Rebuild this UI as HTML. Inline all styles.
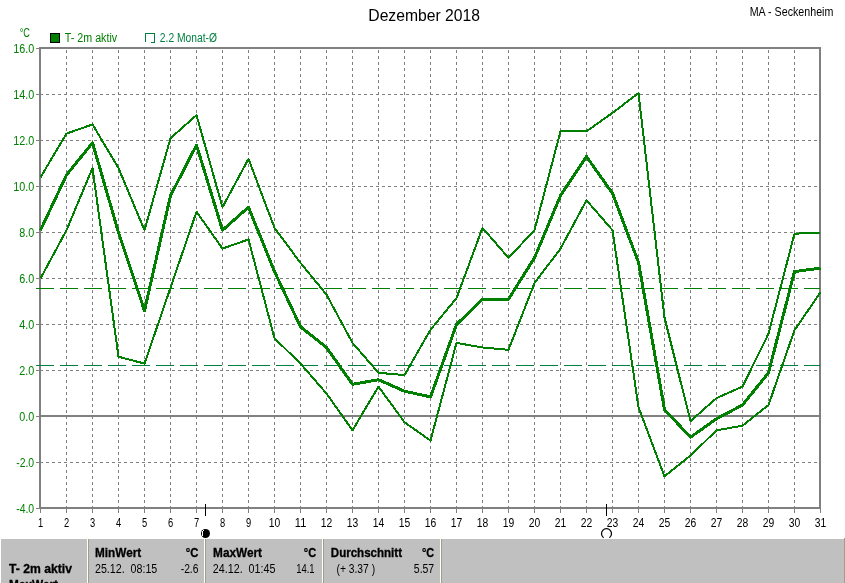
<!DOCTYPE html>
<html><head><meta charset="utf-8"><title>Dezember 2018</title>
<style>
html,body{margin:0;padding:0;background:#fff;overflow:hidden}
svg{display:block}
text{font-family:"Liberation Sans",Arial,sans-serif;font-size:12px}
.g{fill:#008000}
.b{font-weight:bold;stroke:#000;stroke-width:.3px}
</style></head><body>
<svg width="845" height="583" viewBox="0 0 845 583">
<rect width="845" height="583" fill="#fff"/>

<g stroke="#808080" stroke-width="1" stroke-dasharray="3 3" shape-rendering="crispEdges" fill="none">
<line x1="66.5" y1="50" x2="66.5" y2="508"/>
<line x1="92.5" y1="50" x2="92.5" y2="508"/>
<line x1="118.5" y1="50" x2="118.5" y2="508"/>
<line x1="144.5" y1="50" x2="144.5" y2="508"/>
<line x1="170.5" y1="50" x2="170.5" y2="508"/>
<line x1="196.5" y1="50" x2="196.5" y2="508"/>
<line x1="222.5" y1="50" x2="222.5" y2="508"/>
<line x1="248.5" y1="50" x2="248.5" y2="508"/>
<line x1="274.5" y1="50" x2="274.5" y2="508"/>
<line x1="300.5" y1="50" x2="300.5" y2="508"/>
<line x1="326.5" y1="50" x2="326.5" y2="508"/>
<line x1="352.5" y1="50" x2="352.5" y2="508"/>
<line x1="378.5" y1="50" x2="378.5" y2="508"/>
<line x1="404.5" y1="50" x2="404.5" y2="508"/>
<line x1="430.5" y1="50" x2="430.5" y2="508"/>
<line x1="456.5" y1="50" x2="456.5" y2="508"/>
<line x1="482.5" y1="50" x2="482.5" y2="508"/>
<line x1="508.5" y1="50" x2="508.5" y2="508"/>
<line x1="534.5" y1="50" x2="534.5" y2="508"/>
<line x1="560.5" y1="50" x2="560.5" y2="508"/>
<line x1="586.5" y1="50" x2="586.5" y2="508"/>
<line x1="612.5" y1="50" x2="612.5" y2="508"/>
<line x1="638.5" y1="50" x2="638.5" y2="508"/>
<line x1="664.5" y1="50" x2="664.5" y2="508"/>
<line x1="690.5" y1="50" x2="690.5" y2="508"/>
<line x1="716.5" y1="50" x2="716.5" y2="508"/>
<line x1="742.5" y1="50" x2="742.5" y2="508"/>
<line x1="768.5" y1="50" x2="768.5" y2="508"/>
<line x1="794.5" y1="50" x2="794.5" y2="508"/>
<line x1="40" y1="462.5" x2="820" y2="462.5"/>
<line x1="40" y1="370.5" x2="820" y2="370.5"/>
<line x1="40" y1="324.5" x2="820" y2="324.5"/>
<line x1="40" y1="278.5" x2="820" y2="278.5"/>
<line x1="40" y1="232.5" x2="820" y2="232.5"/>
<line x1="40" y1="186.5" x2="820" y2="186.5"/>
<line x1="40" y1="140.5" x2="820" y2="140.5"/>
<line x1="40" y1="94.5" x2="820" y2="94.5"/>
</g>
<g stroke="#808080" shape-rendering="crispEdges" fill="none">
<line x1="40" y1="416" x2="820" y2="416" stroke-width="2"/>
<rect x="40" y="48" width="780" height="460" stroke-width="2"/>
<line x1="40.5" y1="508" x2="40.5" y2="513"/>
<line x1="66.5" y1="508" x2="66.5" y2="513"/>
<line x1="92.5" y1="508" x2="92.5" y2="513"/>
<line x1="118.5" y1="508" x2="118.5" y2="513"/>
<line x1="144.5" y1="508" x2="144.5" y2="513"/>
<line x1="170.5" y1="508" x2="170.5" y2="513"/>
<line x1="196.5" y1="508" x2="196.5" y2="513"/>
<line x1="222.5" y1="508" x2="222.5" y2="513"/>
<line x1="248.5" y1="508" x2="248.5" y2="513"/>
<line x1="274.5" y1="508" x2="274.5" y2="513"/>
<line x1="300.5" y1="508" x2="300.5" y2="513"/>
<line x1="326.5" y1="508" x2="326.5" y2="513"/>
<line x1="352.5" y1="508" x2="352.5" y2="513"/>
<line x1="378.5" y1="508" x2="378.5" y2="513"/>
<line x1="404.5" y1="508" x2="404.5" y2="513"/>
<line x1="430.5" y1="508" x2="430.5" y2="513"/>
<line x1="456.5" y1="508" x2="456.5" y2="513"/>
<line x1="482.5" y1="508" x2="482.5" y2="513"/>
<line x1="508.5" y1="508" x2="508.5" y2="513"/>
<line x1="534.5" y1="508" x2="534.5" y2="513"/>
<line x1="560.5" y1="508" x2="560.5" y2="513"/>
<line x1="586.5" y1="508" x2="586.5" y2="513"/>
<line x1="612.5" y1="508" x2="612.5" y2="513"/>
<line x1="638.5" y1="508" x2="638.5" y2="513"/>
<line x1="664.5" y1="508" x2="664.5" y2="513"/>
<line x1="690.5" y1="508" x2="690.5" y2="513"/>
<line x1="716.5" y1="508" x2="716.5" y2="513"/>
<line x1="742.5" y1="508" x2="742.5" y2="513"/>
<line x1="768.5" y1="508" x2="768.5" y2="513"/>
<line x1="794.5" y1="508" x2="794.5" y2="513"/>
<line x1="820.5" y1="508" x2="820.5" y2="513"/>
<line x1="36" y1="508.5" x2="40" y2="508.5"/>
<line x1="36" y1="462.5" x2="40" y2="462.5"/>
<line x1="36" y1="416.5" x2="40" y2="416.5"/>
<line x1="36" y1="370.5" x2="40" y2="370.5"/>
<line x1="36" y1="324.5" x2="40" y2="324.5"/>
<line x1="36" y1="278.5" x2="40" y2="278.5"/>
<line x1="36" y1="232.5" x2="40" y2="232.5"/>
<line x1="36" y1="186.5" x2="40" y2="186.5"/>
<line x1="36" y1="140.5" x2="40" y2="140.5"/>
<line x1="36" y1="94.5" x2="40" y2="94.5"/>
<line x1="36" y1="48.5" x2="40" y2="48.5"/>
</g>
<g shape-rendering="crispEdges" fill="none" stroke-width="1">
<line x1="36" y1="288.5" x2="820" y2="288.5" stroke="#008000" stroke-dasharray="18 6"/>
<line x1="36" y1="365.5" x2="820" y2="365.5" stroke="#008040" stroke-dasharray="18 6"/>
</g>
<g fill="none" stroke="#008000" stroke-linejoin="round" stroke-linecap="butt" shape-rendering="crispEdges">
<polyline points="40.5,177.3 66.5,133.6 92.5,124.4 118.5,168.1 144.5,230.2 170.5,138.2 196.5,115.2 222.5,207.2 248.5,158.9 274.5,227.9 300.5,262.9 326.5,294.6 352.5,342.9 378.5,372.8 404.5,375.1 430.5,329.8 456.5,298.1 482.5,227.9 508.5,257.8 534.5,230.2 560.5,131.3 586.5,131.3 612.5,112.9 638.5,93.1 664.5,317.6 690.5,421.1 716.5,398.1 742.5,386.6 768.5,333.7 794.5,233.7 820.5,232.5" stroke-width="2"/>
<polyline points="40.5,278.5 66.5,230.2 92.5,168.1 118.5,356.7 144.5,363.6 170.5,287.7 196.5,211.8 222.5,248.6 248.5,239.4 274.5,338.3 300.5,363.6 326.5,393.5 352.5,430.3 378.5,386.6 404.5,422.2 430.5,440.6 456.5,342.9 482.5,347.5 508.5,349.8 534.5,283.1 560.5,248.6 586.5,200.3 612.5,230.2 638.5,407.3 664.5,476.3 690.5,455.6 716.5,430.3 742.5,425.7 768.5,405.0 794.5,330.2 820.5,292.3" stroke-width="2"/>
<polyline points="40.5,230.2 66.5,175.0 92.5,142.8 118.5,232.5 144.5,310.7 170.5,195.7 196.5,145.1 222.5,230.2 248.5,207.2 274.5,271.6 300.5,326.8 326.5,347.5 352.5,384.3 378.5,379.7 404.5,391.2 430.5,396.9 456.5,324.5 482.5,299.2 508.5,299.2 534.5,257.8 560.5,195.7 586.5,156.6 612.5,193.4 638.5,262.4 664.5,409.6 690.5,437.2 716.5,418.8 742.5,405.0 768.5,372.8 794.5,271.6 820.5,268.1" stroke-width="3"/>
</g>
<text x="368.3" y="21" textLength="111.7" lengthAdjust="spacingAndGlyphs" style="font-size:17px">Dezember 2018</text>
<text x="749.7" y="16" textLength="83.7" lengthAdjust="spacingAndGlyphs">MA - Seckenheim</text>
<text class="g" x="19.7" y="37" textLength="10.3" lengthAdjust="spacingAndGlyphs">°C</text>
<rect x="50.5" y="33.5" width="9" height="9" fill="#008000" stroke="#000" shape-rendering="crispEdges"/>
<text class="g" x="64.8" y="42" textLength="52.4" lengthAdjust="spacingAndGlyphs">T- 2m aktiv</text>
<path d="M145.5 42V33.5H154.5V42M151 42.5H155" fill="none" stroke="#008040" shape-rendering="crispEdges"/>
<text x="159.8" y="42" textLength="57.2" lengthAdjust="spacingAndGlyphs" fill="#008040">2.2 Monat-Ø</text>
<text class="g" x="16.2" y="513" textLength="18.0" lengthAdjust="spacingAndGlyphs">-4.0</text>
<text class="g" x="16.2" y="467" textLength="18.0" lengthAdjust="spacingAndGlyphs">-2.0</text>
<text class="g" x="19.2" y="421" textLength="15.0" lengthAdjust="spacingAndGlyphs">0.0</text>
<text class="g" x="19.2" y="375" textLength="15.0" lengthAdjust="spacingAndGlyphs">2.0</text>
<text class="g" x="19.2" y="329" textLength="15.0" lengthAdjust="spacingAndGlyphs">4.0</text>
<text class="g" x="19.2" y="283" textLength="15.0" lengthAdjust="spacingAndGlyphs">6.0</text>
<text class="g" x="19.2" y="237" textLength="15.0" lengthAdjust="spacingAndGlyphs">8.0</text>
<text class="g" x="13.2" y="191" textLength="21.0" lengthAdjust="spacingAndGlyphs">10.0</text>
<text class="g" x="13.2" y="145" textLength="21.0" lengthAdjust="spacingAndGlyphs">12.0</text>
<text class="g" x="13.2" y="99" textLength="21.0" lengthAdjust="spacingAndGlyphs">14.0</text>
<text class="g" x="13.2" y="53" textLength="21.0" lengthAdjust="spacingAndGlyphs">16.0</text>
<text x="37.9" y="527" textLength="5.2" lengthAdjust="spacingAndGlyphs">1</text>
<text x="63.9" y="527" textLength="5.2" lengthAdjust="spacingAndGlyphs">2</text>
<text x="89.9" y="527" textLength="5.2" lengthAdjust="spacingAndGlyphs">3</text>
<text x="115.9" y="527" textLength="5.2" lengthAdjust="spacingAndGlyphs">4</text>
<text x="141.9" y="527" textLength="5.2" lengthAdjust="spacingAndGlyphs">5</text>
<text x="167.9" y="527" textLength="5.2" lengthAdjust="spacingAndGlyphs">6</text>
<text x="193.9" y="527" textLength="5.2" lengthAdjust="spacingAndGlyphs">7</text>
<text x="219.9" y="527" textLength="5.2" lengthAdjust="spacingAndGlyphs">8</text>
<text x="245.9" y="527" textLength="5.2" lengthAdjust="spacingAndGlyphs">9</text>
<text x="268.8" y="527" textLength="11.5" lengthAdjust="spacingAndGlyphs">10</text>
<text x="294.8" y="527" textLength="11.5" lengthAdjust="spacingAndGlyphs">11</text>
<text x="320.8" y="527" textLength="11.5" lengthAdjust="spacingAndGlyphs">12</text>
<text x="346.8" y="527" textLength="11.5" lengthAdjust="spacingAndGlyphs">13</text>
<text x="372.8" y="527" textLength="11.5" lengthAdjust="spacingAndGlyphs">14</text>
<text x="398.8" y="527" textLength="11.5" lengthAdjust="spacingAndGlyphs">15</text>
<text x="424.8" y="527" textLength="11.5" lengthAdjust="spacingAndGlyphs">16</text>
<text x="450.8" y="527" textLength="11.5" lengthAdjust="spacingAndGlyphs">17</text>
<text x="476.8" y="527" textLength="11.5" lengthAdjust="spacingAndGlyphs">18</text>
<text x="502.8" y="527" textLength="11.5" lengthAdjust="spacingAndGlyphs">19</text>
<text x="528.8" y="527" textLength="11.5" lengthAdjust="spacingAndGlyphs">20</text>
<text x="554.8" y="527" textLength="11.5" lengthAdjust="spacingAndGlyphs">21</text>
<text x="580.8" y="527" textLength="11.5" lengthAdjust="spacingAndGlyphs">22</text>
<text x="606.8" y="527" textLength="11.5" lengthAdjust="spacingAndGlyphs">23</text>
<text x="632.8" y="527" textLength="11.5" lengthAdjust="spacingAndGlyphs">24</text>
<text x="658.8" y="527" textLength="11.5" lengthAdjust="spacingAndGlyphs">25</text>
<text x="684.8" y="527" textLength="11.5" lengthAdjust="spacingAndGlyphs">26</text>
<text x="710.8" y="527" textLength="11.5" lengthAdjust="spacingAndGlyphs">27</text>
<text x="736.8" y="527" textLength="11.5" lengthAdjust="spacingAndGlyphs">28</text>
<text x="762.8" y="527" textLength="11.5" lengthAdjust="spacingAndGlyphs">29</text>
<text x="788.8" y="527" textLength="11.5" lengthAdjust="spacingAndGlyphs">30</text>
<text x="814.8" y="527" textLength="11.5" lengthAdjust="spacingAndGlyphs">31</text>
<g shape-rendering="crispEdges" stroke="#000"><line x1="205.5" y1="504" x2="205.5" y2="516"/><line x1="606.5" y1="504" x2="606.5" y2="516"/></g>
<circle cx="205.5" cy="533.5" r="4.5" fill="#000"/>
<path d="M202 531h1v5h-1zM203 530h1v1h-1z" fill="#fff" shape-rendering="crispEdges"/>
<path d="M603.6 537.8 A5 5 0 1 1 609.4 537.8" fill="none" stroke="#000" stroke-width="1.25"/>
<g shape-rendering="crispEdges">
<rect x="0" y="539" width="845" height="44" fill="#c0c0c0"/>
<rect x="0" y="539" width="1" height="44" fill="#fff"/>
<rect x="87" y="539" width="1" height="44" fill="#fff"/><rect x="88" y="539" width="1" height="44" fill="#a09d8a"/>
<rect x="204" y="539" width="1" height="44" fill="#fff"/><rect x="205" y="539" width="1" height="44" fill="#a09d8a"/>
<rect x="322" y="539" width="1" height="44" fill="#fff"/><rect x="323" y="539" width="1" height="44" fill="#a09d8a"/>
<rect x="440" y="539" width="1" height="44" fill="#fff"/><rect x="441" y="539" width="1" height="44" fill="#a09d8a"/>
<rect x="844" y="538" width="1" height="45" fill="#a09d8a"/>
</g>
<text class="b" x="9.1" y="573" textLength="62.9" lengthAdjust="spacingAndGlyphs">T- 2m aktiv</text>
<text class="b" x="9.1" y="589" textLength="48.9" lengthAdjust="spacingAndGlyphs">MaxWert</text>
<text class="b" x="95.0" y="557" textLength="46.2" lengthAdjust="spacingAndGlyphs">MinWert</text>
<text class="b" x="185.8" y="557" textLength="12.7" lengthAdjust="spacingAndGlyphs">°C</text>
<text class="b" x="213.1" y="557" textLength="48.9" lengthAdjust="spacingAndGlyphs">MaxWert</text>
<text class="b" x="303.8" y="557" textLength="12.4" lengthAdjust="spacingAndGlyphs">°C</text>
<text class="b" x="330.8" y="557" textLength="71.2" lengthAdjust="spacingAndGlyphs">Durchschnitt</text>
<text class="b" x="422.0" y="557" textLength="12.2" lengthAdjust="spacingAndGlyphs">°C</text>
<text x="95.0" y="573" textLength="62.3" lengthAdjust="spacingAndGlyphs" xml:space="preserve" style="white-space:pre">25.12.  08:15</text>
<text x="180.7" y="573" textLength="17.8" lengthAdjust="spacingAndGlyphs">-2.6</text>
<text x="212.8" y="573" textLength="62.6" lengthAdjust="spacingAndGlyphs" xml:space="preserve" style="white-space:pre">24.12.  01:45</text>
<text x="296.2" y="573" textLength="18.4" lengthAdjust="spacingAndGlyphs">14.1</text>
<text x="336.5" y="573" textLength="38.6" lengthAdjust="spacingAndGlyphs">(+ 3.37 )</text>
<text x="413.8" y="573" textLength="20.4" lengthAdjust="spacingAndGlyphs">5.57</text>
</svg></body></html>
